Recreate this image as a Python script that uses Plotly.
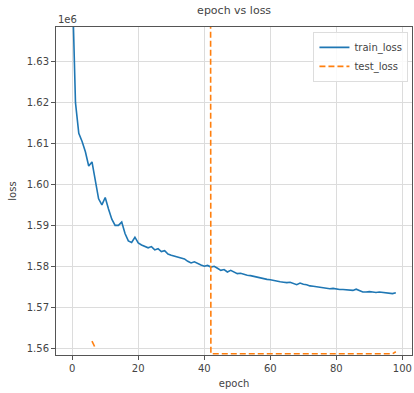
import plotly.graph_objects as go

epochs = list(range(99))

# loss values in units of 1e6 (as shown by the axis offset label)
train_loss = [
    1.6500, 1.6200, 1.6125, 1.6105, 1.6080, 1.6045, 1.6055, 1.6010, 1.5965, 1.5950,
    1.5968, 1.5940, 1.5915, 1.5900, 1.5900, 1.5908, 1.5880, 1.5862, 1.5858, 1.5871,
    1.5857, 1.5852, 1.5849, 1.5845, 1.5848, 1.5840, 1.5843, 1.5836, 1.5838, 1.5830,
    1.5827, 1.5825, 1.5823, 1.5820, 1.5818, 1.5812, 1.5808, 1.5811, 1.5806, 1.5803,
    1.5800, 1.5802, 1.5798, 1.5800, 1.5795, 1.5790, 1.5792, 1.5786, 1.5790, 1.5785,
    1.5782, 1.5783, 1.5780, 1.5778, 1.5777, 1.5775, 1.5773, 1.5772, 1.5770, 1.5768,
    1.5767, 1.5765, 1.5763, 1.5762, 1.5761, 1.5760, 1.5761, 1.5758, 1.5755, 1.5759,
    1.5756, 1.5755, 1.5752, 1.5751, 1.5750, 1.5749, 1.5748, 1.5747, 1.5745, 1.5746,
    1.5744, 1.5743, 1.5743, 1.5742, 1.5742, 1.5741, 1.5744, 1.5740, 1.5737, 1.5737,
    1.5738, 1.5737, 1.5736, 1.5737, 1.5736, 1.5735, 1.5734, 1.5733, 1.5735,
]

test_loss = (
    [None] * 6
    + [1.5617, 1.5600]
    + [None] * 33
    + [2.5000]
    + [1.5586] * 56
    + [1.5591]
)

x_ticks = [0, 20, 40, 60, 80, 100]
y_ticks = [1.56, 1.57, 1.58, 1.59, 1.60, 1.61, 1.62, 1.63]
y_tick_labels = ["1.56", "1.57", "1.58", "1.59", "1.60", "1.61", "1.62", "1.63"]

fig = go.Figure()
fig.add_trace(go.Scatter(
    x=epochs, y=train_loss, mode="lines", name="train_loss",
    line=dict(color="#1f77b4", width=1.6),
))
fig.add_trace(go.Scatter(
    x=epochs, y=test_loss, mode="lines", name="test_loss",
    line=dict(color="#ff7f0e", width=1.6, dash="6px,3px"),
))

axis_common = dict(
    showgrid=True, gridcolor="#dcdcdc", gridwidth=1,
    showline=True, linecolor="#555555", linewidth=1, mirror=True,
    ticks="outside", ticklen=4, tickcolor="#555555",
    tickfont=dict(family="DejaVu Sans", size=10, color="#444444"),
    zeroline=False,
)

fig.update_xaxes(
    range=[-4.9, 102.9], tickvals=x_ticks,
    title=dict(text="epoch", font=dict(family="DejaVu Sans", size=10, color="#444444"), standoff=6),
    **axis_common,
)
fig.update_yaxes(
    range=[1.5583, 1.6385], tickvals=y_ticks, ticktext=y_tick_labels,
    title=dict(text="loss", font=dict(family="DejaVu Sans", size=10, color="#444444"), standoff=8),
    **axis_common,
)

fig.update_layout(
    width=414, height=393,
    margin=dict(l=56, r=2, t=27, b=38),
    paper_bgcolor="white", plot_bgcolor="white",
    title=dict(text="epoch vs loss", x=0.5655, xanchor="center", y=0.985, yanchor="top",
               font=dict(family="DejaVu Sans", size=11, color="#444444")),
    legend=dict(x=0.99, y=0.985, xanchor="right", yanchor="top",
                bgcolor="rgba(255,255,255,0.85)", bordercolor="#dddddd", borderwidth=1,
                font=dict(family="DejaVu Sans", size=10, color="#444444"),
                tracegroupgap=0),
    showlegend=True,
    annotations=[dict(text="1e6", xref="paper", yref="paper", x=0, y=1,
                      xanchor="left", yanchor="bottom", showarrow=False,
                      font=dict(family="DejaVu Sans", size=10, color="#444444"))],
)

fig.write_html("out.html")
